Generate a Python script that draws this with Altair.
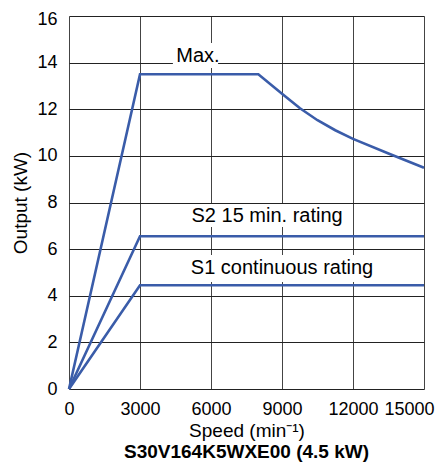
import altair as alt
import pandas as pd

# Curve data (speed in min^-1, output in kW)
max_speed = [0, 3000, 8000, 9000, 9760, 10500, 11250, 12000, 13500, 15000]
max_output = [0, 13.5, 13.5, 12.66, 12.04, 11.53, 11.1, 10.73, 10.1, 9.49]
s2_speed = [0, 3000, 15000]
s2_output = [0, 6.55, 6.55]
s1_speed = [0, 3000, 15000]
s1_output = [0, 4.45, 4.45]

# Labels (text and anchor in data units) with white background boxes
label_text = ["Max.", "S2 15 min. rating", "S1 continuous rating"]
label_x = [5450, 8370, 9000]
label_y = [14.28, 7.42, 5.19]
box_x1 = [4390, 4820, 4520]
box_x2 = [6300, 11830, 13700]
box_y1 = [13.77, 6.95, 4.59]
box_y2 = [14.84, 7.94, 5.75]

x_ticks = [0, 1500, 3000, 4500, 6000, 7500, 9000, 10500, 12000, 13500, 15000]
y_ticks = [0, 2, 4, 6, 8, 10, 12, 14, 16]

BLUE = "#3a5ca9"
FONT = "Liberation Sans"

rows = []
for name, xs, ys in [("max", max_speed, max_output), ("s2", s2_speed, s2_output), ("s1", s1_speed, s1_output)]:
    for i, (a, b) in enumerate(zip(xs, ys)):
        rows.append({"series": name, "speed": a, "output": b, "order": i})
lines_df = pd.DataFrame(rows)

labels_df = pd.DataFrame({
    "text": label_text, "x": label_x, "y": label_y,
    "x1": box_x1, "x2": box_x2, "y1": box_y1, "y2": box_y2,
})

xscale = alt.Scale(domain=[0, 15000], nice=False, zero=True)
yscale = alt.Scale(domain=[0, 16], nice=False)

xaxis = alt.Axis(
    values=x_ticks, format="d",
    labelExpr="datum.value % 3000 == 0 ? datum.label : ''",
    title="Speed (min⁻¹)", titleFont=FONT, titleFontSize=19, titleFontWeight="normal",
    titleColor="black", titleBaseline="middle", titleY=41,
    labelFont=FONT, labelFontSize=18, labelColor="black", labelPadding=11,
    labelBaseline="top", labelFlush=False, labelOverlap=False,
    labelOffset={"condition": {"test": "datum.value == 15000", "value": -15}, "value": 0},
    ticks=False, tickSize=0, domain=False,
    grid=True, gridColor="#444444", gridWidth=1,
)
yaxis = alt.Axis(
    values=y_ticks,
    title="Output (kW)", titleFont=FONT, titleFontSize=19, titleFontWeight="normal",
    titleColor="black", titleX=-49, titleY=186.5, titleAngle=-90,
    titleBaseline="middle", titleAlign="center",
    labelFont=FONT, labelFontSize=18, labelColor="black", labelPadding=12,
    labelOffset={"condition": {"test": "datum.value == 16", "value": 3}, "value": 0},
    ticks=False, tickSize=0, domain=False,
    grid=True, gridColor="#222222", gridWidth=1,
)

lines = alt.Chart(lines_df).mark_line(color=BLUE, strokeWidth=2.6).encode(
    x=alt.X("speed:Q", scale=xscale, axis=xaxis),
    y=alt.Y("output:Q", scale=yscale, axis=yaxis),
    detail="series:N",
    order="order:Q",
)

boxes = alt.Chart(labels_df).mark_rect(color="white").encode(
    x=alt.X("x1:Q", scale=xscale), x2="x2:Q",
    y=alt.Y("y1:Q", scale=yscale), y2="y2:Q",
)

texts = alt.Chart(labels_df).mark_text(
    font=FONT, fontSize=20, color="black", align="center", baseline="middle"
).encode(
    x=alt.X("x:Q", scale=xscale),
    y=alt.Y("y:Q", scale=yscale),
    text="text:N",
)

chart = alt.layer(boxes, lines, texts).properties(
    width=355, height=373,
    autosize=alt.AutoSizeParams(type="none"),
    padding={"left": 61, "top": 8, "right": 11, "bottom": 74},
    title=alt.TitleParams(
        "S30V164K5WXE00 (4.5 kW)", orient="bottom", font=FONT, fontSize=19,
        fontWeight="bold", color="black", anchor="middle", offset=3,
    ),
).configure_view(stroke="black", strokeWidth=2.5).configure(background="white")

chart.save("out.html", embed_options={"renderer": "svg", "actions": False})
